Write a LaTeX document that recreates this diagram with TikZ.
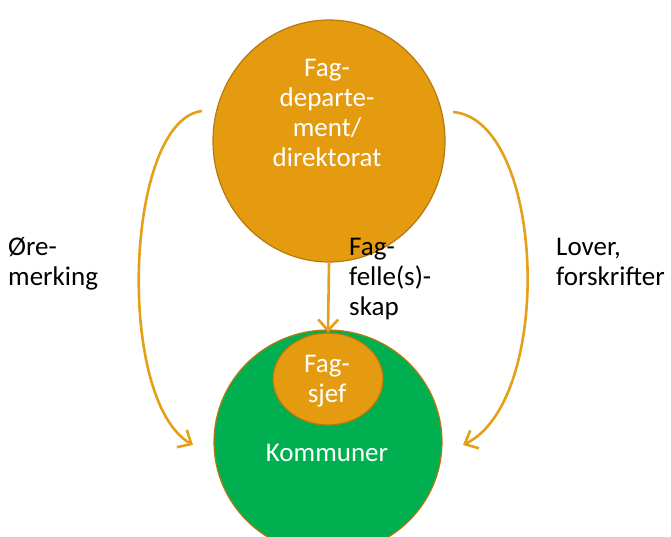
\documentclass[tikz,border=0pt]{standalone}
\usepackage{fontspec}
\setmainfont{Carlito}
\usetikzlibrary{shapes.geometric,arrows.meta}
\definecolor{gold}{HTML}{E49B0F}
\definecolor{goldedge}{HTML}{B8780E}
\definecolor{kgreen}{HTML}{00B050}
\definecolor{arrowc}{HTML}{E5A01A}
\tikzset{
  bubble/.style={ellipse, draw=goldedge, line width=1.2pt, inner sep=0pt},
  wtext/.style={text=white, font=\fontsize{27}{30}\selectfont, inner sep=0pt, align=center},
  ltext/.style={text=black, font=\fontsize{27}{30}\selectfont, inner sep=0pt, align=left, anchor=base west},
  flow/.style={draw=arrowc, line width=2.6pt, -{Straight Barb[length=11pt,width=20pt,line width=2.6pt]}}
}
\begin{document}
\begin{tikzpicture}[x=1pt,y=-1pt]
\useasboundingbox (0,0) rectangle (671,537);
\clip (0,0) rectangle (671,537);
\node[bubble, fill=gold, minimum width=232pt, minimum height=242pt] (top) at (329,141) {};
\node[bubble, fill=kgreen, minimum width=228pt, minimum height=224pt] (kom) at (328,442) {};
\node[bubble, fill=gold, minimum width=110pt, minimum height=92pt] (sjef) at (328,379) {};
\node[wtext] (toptext) at (327,113) {Fag-\\departe-\\ment/\\direktorat};
\node[wtext] (sjeftext) at (327,381) {Fag-\\sjef};
\node[wtext, anchor=base] (komtext) at (327,461) {Kommuner};
\node[ltext] (oremerk) at (8,285) {Øre-\\merking};
\node[ltext] (fagfelle) at (349,315) {Fag-\\felle(s)-\\skap};
\node[ltext] (lover) at (556,285) {Lover,\\forskrifter};
\coordinate (ls) at (202,111);
\coordinate (le) at (193,445);
\coordinate (rs) at (453,112);
\coordinate (re) at (463,445);
\draw[flow] (top.south) -- (sjef.north);
\draw[flow] (ls) .. controls (125,120) and (115,400) .. (le);
\draw[flow] (rs) .. controls (545,120) and (555,400) .. (re);
\end{tikzpicture}
\end{document}
